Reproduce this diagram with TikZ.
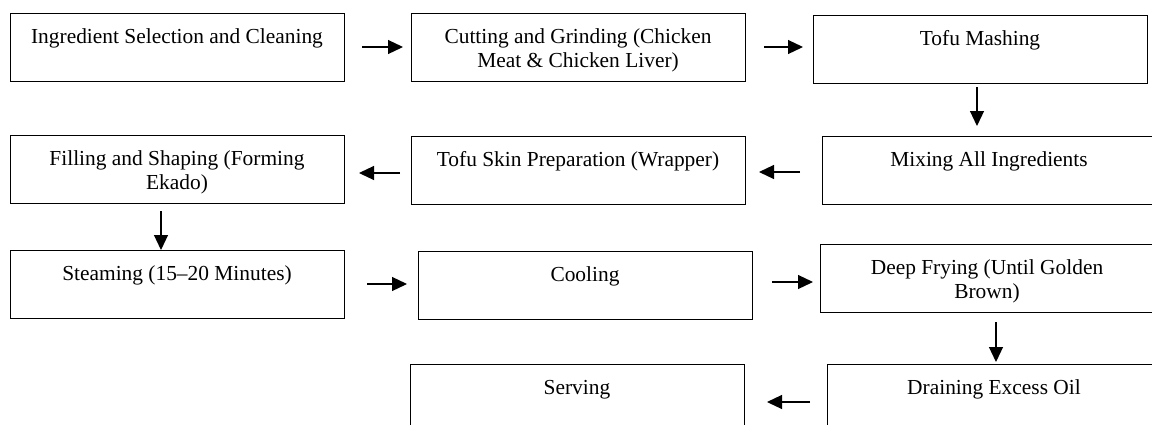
\documentclass[tikz,border=0pt]{standalone}
\usepackage{fontspec}
\setmainfont{Liberation Serif}
\usetikzlibrary{arrows.meta}
\newcommand{\bxtext}[1]{\parbox[t][68pt][t]{334pt}{\centering\fontsize{21.4}{24}\selectfont\vspace*{14pt}\strut #1\par}}
\tikzset{
  stepbox/.style={draw=black, line width=1pt, inner sep=0pt, outer sep=0pt, anchor=north west},
  arr/.style={-{Triangle[length=15pt,width=14pt]}, line width=1.2pt, black}
}
\begin{document}
\begin{tikzpicture}[x=1pt,y=-1pt]
\useasboundingbox (0,0) rectangle (1152,424);
\clip (0,0) rectangle (1152,424);
% row 1
\node[stepbox] (b1) at (10,13) {\bxtext{Ingredient Selection and Cleaning}};
\node[stepbox] (b2) at (411,13) {\bxtext{Cutting and Grinding (Chicken\\Meat \& Chicken Liver)}};
\node[stepbox] (b3) at (813,15) {\bxtext{Tofu Mashing}};
% row 2
\node[stepbox] (b4) at (10,135) {\bxtext{Filling and Shaping (Forming\\Ekado)}};
\node[stepbox] (b5) at (411,136) {\bxtext{Tofu Skin Preparation (Wrapper)}};
\node[stepbox] (b6) at (822,136) {\bxtext{Mixing All Ingredients}};
% row 3
\node[stepbox] (b7) at (10,250) {\bxtext{Steaming (15--20 Minutes)}};
\node[stepbox] (b8) at (418,251) {\bxtext{Cooling}};
\node[stepbox] (b9) at (820,244) {\bxtext{Deep Frying (Until Golden\\Brown)}};
% row 4
\node[stepbox] (b10) at (410,364) {\bxtext{Serving}};
\node[stepbox] (b11) at (827,364) {\bxtext{Draining Excess Oil}};
% connectors
\draw[arr, shorten <=18pt, shorten >=8pt] (b1.east) -- (b1.east -| b2.west);
\draw[arr, shorten <=19pt, shorten >=10pt] (b2.east) -- (b2.east -| b3.west);
\draw[arr, shorten <=4pt, shorten >=10pt] ([xshift=-3pt]b3.south) -- ([xshift=-3pt]b3.south |- b6.north);
\draw[arr, shorten <=22pt, shorten >=14pt] ([yshift=-2pt]b6.west) -- ([yshift=-2pt]b6.west -| b5.east);
\draw[arr, shorten <=11pt, shorten >=15pt] ([yshift=-3pt]b5.west) -- ([yshift=-3pt]b5.west -| b4.east);
\draw[arr, shorten <=8pt, shorten >=0pt] ([xshift=-16pt]b4.south) -- ([xshift=-16pt]b4.south |- b7.north);
\draw[arr, shorten <=23pt, shorten >=11pt] (b7.east) -- (b7.east -| b8.west);
\draw[arr, shorten <=20pt, shorten >=7pt] ([yshift=3pt]b8.east) -- ([yshift=3pt]b8.east -| b9.west);
\draw[arr, shorten <=10pt, shorten >=2pt] ([xshift=9pt]b9.south) -- ([xshift=9pt]b9.south |- b11.north);
\draw[arr, shorten <=17pt, shorten >=23pt] ([yshift=-4pt]b11.west) -- ([yshift=-4pt]b11.west -| b10.east);
\end{tikzpicture}
\end{document}
